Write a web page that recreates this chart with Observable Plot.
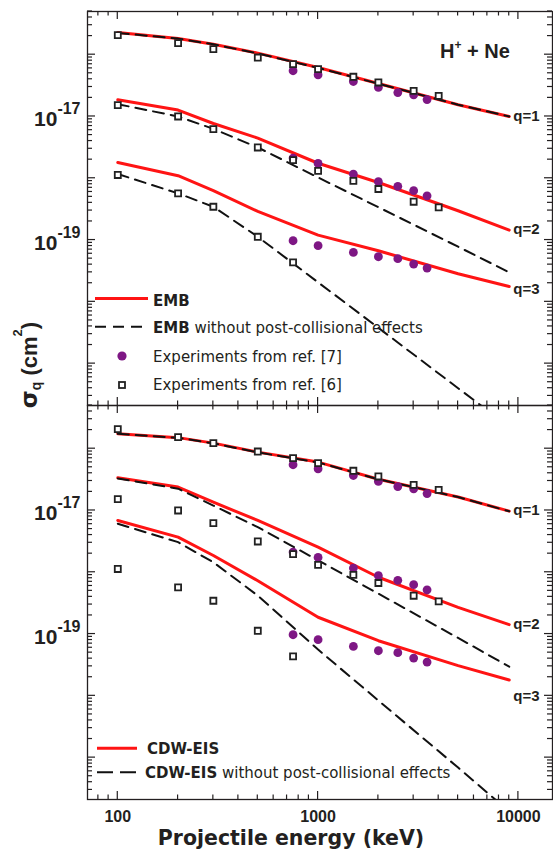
<!DOCTYPE html>
<html>
<head>
<meta charset="utf-8">
<script src="https://cdn.jsdelivr.net/npm/d3@7"></script>
<script src="https://cdn.jsdelivr.net/npm/@observablehq/plot@0.6"></script>
<style>
  html, body { margin: 0; padding: 0; background: #fff; }
  #chart { position: relative; width: 553px; height: 857px; overflow: hidden; }
  #chart svg { display: block; overflow: visible; }
  #overlay { position: absolute; left: 0; top: 0; pointer-events: none; }
</style>
</head>
<body>
<div id="chart"></div>
<script>
// ---------------- data ----------------
const theoryEnergy = [100, 200, 300, 500, 1000, 2000, 5000, 9000];

// EMB (top panel)
const embQ1 = [2.29e-16, 1.83e-16, 1.48e-16, 1.06e-16, 6.2e-17, 3.42e-17, 1.55e-17, 1.0e-17];
const embQ2 = [1.86e-17, 1.27e-17, 7.7e-18, 4.47e-18, 1.75e-18, 8.55e-19, 2.98e-19, 1.45e-19];
const embQ3 = [1.8e-18, 1.1e-18, 6.3e-19, 2.9e-19, 1.2e-19, 6.7e-20, 2.85e-20, 1.77e-20];
// EMB without post-collisional effects
const embNoPcQ1 = [2.25e-16, 1.82e-16, 1.47e-16, 1.05e-16, 6.1e-17, 3.4e-17, 1.55e-17, 1.0e-17];
const embNoPcQ2 = [1.58e-17, 1.0e-17, 6.3e-18, 3.15e-18, 1.03e-18, 3.4e-19, 7.8e-20, 3.0e-20];
const embNoPcQ3 = [1.17e-18, 5.7e-19, 3.46e-19, 1.13e-19, 2.07e-20, 3.8e-21, 4.0e-22, 9.5e-23];

// CDW-EIS (bottom panel)
const cdwQ1 = [1.75e-16, 1.51e-16, 1.23e-16, 8.8e-17, 6.07e-17, 3.2e-17, 1.65e-17, 9.75e-18];
const cdwQ2 = [3.39e-17, 2.39e-17, 1.36e-17, 6.9e-18, 2.55e-18, 8.3e-19, 2.71e-19, 1.42e-19];
const cdwQ3 = [6.9e-18, 3.7e-18, 1.87e-18, 7.3e-19, 1.87e-19, 7.8e-20, 3.08e-20, 1.8e-20];
// CDW-EIS without post-collisional effects
const cdwNoPcQ1 = [1.74e-16, 1.5e-16, 1.22e-16, 8.7e-17, 6.0e-17, 3.2e-17, 1.65e-17, 9.7e-18];
const cdwNoPcQ2 = [3.3e-17, 2.25e-17, 1.2e-17, 5.37e-18, 1.56e-18, 4.5e-19, 8.65e-20, 2.96e-20];
const cdwNoPcQ3 = [6.1e-18, 3.07e-18, 1.45e-18, 4.19e-19, 5.6e-20, 8.4e-21, 6.9e-22, 1.34e-22];

// Experiments from ref. [6] (open squares)
const exp6Energy = [100, 200, 300, 500, 750, 1000, 1500, 2000, 3000, 4000];
const exp6Q1 = [2.07e-16, 1.54e-16, 1.23e-16, 9.0e-17, 7.05e-17, 5.85e-17, 4.39e-17, 3.55e-17, 2.6e-17, 2.16e-17];
const exp6Q2 = [1.53e-17, 1.0e-17, 6.25e-18, 3.15e-18, 1.97e-18, 1.32e-18, 9.1e-19, 6.7e-19, 4.17e-19, 3.37e-19];
const exp6Q3Energy = [100, 200, 300, 500, 750];
const exp6Q3 = [1.13e-18, 5.7e-19, 3.46e-19, 1.13e-19, 4.34e-20];

// Experiments from ref. [7] (filled circles)
const exp7Energy = [750, 1000, 1500, 2000, 2500, 3000, 3500];
const exp7Q1 = [5.5e-17, 4.73e-17, 3.68e-17, 2.95e-17, 2.44e-17, 2.24e-17, 1.88e-17];
const exp7Q2 = [2.12e-18, 1.74e-18, 1.17e-18, 8.8e-19, 7.4e-19, 6.3e-19, 5.2e-19];
const exp7Q3 = [9.75e-20, 8.1e-20, 6.3e-20, 5.37e-20, 5.0e-20, 4.09e-20, 3.52e-20];

// labels
const qLabels = ["q=1", "q=2", "q=3"];
const qLabelEnergy = 9000;
const qLabelYTop = [1.0e-17, 1.51e-19, 1.61e-20];
const qLabelYBottom = [1.0e-17, 1.46e-19, 1.0e-20];
const xTickLabels = [100, 1000, 10000];
const yTickLabels = [1e-17, 1e-19];
const xDomain = [70.6, 14800];
const yDomain = [2.1e-22, 5.0e-16];

// ---------------- styling ----------------
const RED = "#ff1414";
const PURPLE = "#7e1784";
const AX = "#231f20";
const TXT = "#231f20";
const ARIAL = "'Liberation Sans', Arial, Helvetica, sans-serif";
const DEJAVU = "'DejaVu Sans', 'Liberation Sans', sans-serif";
const DASH = "11,7";
const W = 553, ML = 87, MR = 1;

const series = (xs, ys) => xs.map((x, i) => ({x, y: ys[i]}));

const isMajor = d => Math.abs(Math.log10(d) - Math.round(Math.log10(d))) < 1e-9;
const xAll = d3.scaleLog().domain(xDomain).ticks(20);
const yAll = d3.scaleLog().domain(yDomain).ticks(20);
const xMajor = xAll.filter(isMajor), xMinor = xAll.filter(d => !isMajor(d));
const yMajor = yAll.filter(isMajor), yMinor = yAll.filter(d => !isMajor(d));

function panel({height, marginTop, marginBottom, solid, dashed, qY, showX}) {
  const marks = [
    ...solid.map(ys => Plot.line(series(theoryEnergy, ys), {x: "x", y: "y", stroke: RED, strokeWidth: 3, clip: true})),
    ...dashed.map(ys => Plot.line(series(theoryEnergy, ys), {x: "x", y: "y", stroke: "#111", strokeWidth: 2, strokeDasharray: DASH, clip: true})),
    ...[exp7Q1, exp7Q2, exp7Q3].map(ys => Plot.dot(series(exp7Energy, ys), {x: "x", y: "y", r: 4.4, fill: PURPLE, stroke: "none"})),
    ...[[exp6Energy, exp6Q1], [exp6Energy, exp6Q2], [exp6Q3Energy, exp6Q3]].map(([xs, ys]) =>
      Plot.dot(series(xs, ys), {x: "x", y: "y", symbol: "square", r: 3.4, fill: "white", stroke: "#222", strokeWidth: 1.8})),
    Plot.text(qLabels.map((t, i) => ({t, x: qLabelEnergy, y: qY[i]})), {x: "x", y: "y", text: "t", textAnchor: "start", dx: 4, fontSize: 15, fontWeight: "bold", fill: TXT}),
    Plot.frame({stroke: AX, strokeWidth: 1.3}),
    Plot.axisY({anchor: "left", ticks: yTickLabels, tickSize: 0, tickPadding: 7, dy: 3, label: null,
      tickFormat: d => "10^" + Math.round(Math.log10(d)), fontSize: 21, fontWeight: "bold", fill: TXT}),
    showX
      ? Plot.axisX({anchor: "bottom", ticks: xTickLabels, tickSize: 0, tickPadding: 11, label: null,
          tickFormat: d3.format("d"), fontSize: 16, fontWeight: "bold", fill: TXT})
      : Plot.axisX({anchor: "bottom", ticks: [], tickSize: 0, label: null})
  ];
  const svg = Plot.plot({
    width: W, height, marginTop, marginBottom, marginLeft: ML, marginRight: MR,
    style: {fontFamily: ARIAL, background: "transparent", overflow: "visible"},
    x: {type: "log", domain: xDomain},
    y: {type: "log", domain: yDomain},
    marks
  });
  // superscript exponents of the y tick labels
  const ns = "http://www.w3.org/2000/svg";
  svg.querySelectorAll('[aria-label="y-axis tick label"] text').forEach(t => {
    const s = t.textContent;
    if (!s.includes("^")) return;
    const [b, e] = s.split("^");
    t.textContent = "";
    const t1 = document.createElementNS(ns, "tspan"); t1.textContent = b;
    const t2 = document.createElementNS(ns, "tspan"); t2.textContent = e;
    t2.setAttribute("dy", "-12"); t2.setAttribute("font-size", "16");
    t.appendChild(t1); t.appendChild(t2);
  });
  return svg;
}

const chart = document.getElementById("chart");
const topSvg = panel({height: 405, marginTop: 11, marginBottom: 0,
  solid: [embQ1, embQ2, embQ3], dashed: [embNoPcQ1, embNoPcQ2, embNoPcQ3], qY: qLabelYTop, showX: false});
const botSvg = panel({height: 452, marginTop: 0, marginBottom: 58,
  solid: [cdwQ1, cdwQ2, cdwQ3], dashed: [cdwNoPcQ1, cdwNoPcQ2, cdwNoPcQ3], qY: qLabelYBottom, showX: true});
chart.appendChild(topSvg);
chart.appendChild(botSvg);

// ---------------- overlay: ticks, titles & legends ----------------
const ov = d3.select(chart).append("svg").attr("id", "overlay").attr("width", 553).attr("height", 857);

// inward-pointing ticks on all four sides, positioned with each panel's own Plot scales
function drawTicks(svg, offsetY) {
  try {
    const d0 = svg.scale("x"), e0 = svg.scale("y");
    const sx = d3.scaleLog().domain(d0.domain).range(d0.range);
    const sy = d3.scaleLog().domain(e0.domain).range(e0.range);
    const [xl, xr] = d0.range;
    const yb = Math.max(...e0.range) + offsetY, yt = Math.min(...e0.range) + offsetY;
    const g = ov.append("g").attr("stroke", AX).attr("stroke-width", 1.2);
    for (const [ticks, size] of [[xMajor, 8], [xMinor, 4.5]]) for (const v of ticks) {
      const X = sx(v);
      g.append("line").attr("x1", X).attr("x2", X).attr("y1", yt).attr("y2", yt + size);
      g.append("line").attr("x1", X).attr("x2", X).attr("y1", yb).attr("y2", yb - size);
    }
    for (const [ticks, size] of [[yMajor, 8], [yMinor, 5]]) for (const v of ticks) {
      const Y = sy(v) + offsetY;
      g.append("line").attr("x1", xl).attr("x2", xl + size).attr("y1", Y).attr("y2", Y);
      g.append("line").attr("x1", xr).attr("x2", xr - size).attr("y1", Y).attr("y2", Y);
    }
  } catch (e) { /* ticks are decorative */ }
}
drawTicks(topSvg, 0);
drawTicks(botSvg, 405);

// y title
const yt = ov.append("text").attr("transform", "translate(37,365) rotate(-90)")
  .attr("text-anchor", "middle").attr("font-family", ARIAL).attr("font-weight", "bold")
  .attr("font-size", 22).attr("fill", TXT);
yt.append("tspan").text("σ").attr("font-family", DEJAVU).attr("font-size", 23);
yt.append("tspan").text("q").attr("font-size", 14).attr("dy", 4);
yt.append("tspan").text(" (cm").attr("dy", -4);
yt.append("tspan").text("2").attr("font-size", 13).attr("dy", -15);
yt.append("tspan").text(")").attr("dy", 15);

// x title
ov.append("text").attr("x", 291).attr("y", 845).attr("text-anchor", "middle")
  .attr("font-family", DEJAVU).attr("font-weight", "bold").attr("font-size", 20.5).attr("fill", TXT)
  .text("Projectile energy (keV)");

// H+ + Ne
const hn = ov.append("text").attr("x", 440).attr("y", 57.5).attr("font-family", ARIAL)
  .attr("font-weight", "bold").attr("font-size", 20).attr("fill", TXT);
hn.append("tspan").text("H");
hn.append("tspan").text("+").attr("font-size", 12).attr("dy", -9);
hn.append("tspan").text(" + Ne").attr("dy", 9);

function legendText(x, y, bold, rest) {
  const t = ov.append("text").attr("x", x).attr("y", y).attr("font-family", DEJAVU)
    .attr("font-size", 15).attr("fill", TXT);
  if (bold) t.append("tspan").attr("font-weight", "bold").text(bold);
  if (rest) t.append("tspan").text(rest);
}
// top legend
ov.append("line").attr("x1", 95).attr("x2", 148).attr("y1", 298.5).attr("y2", 298.5).attr("stroke", RED).attr("stroke-width", 3);
legendText(153, 305.5, "EMB", "");
ov.append("line").attr("x1", 95).attr("x2", 148).attr("y1", 326.7).attr("y2", 326.7).attr("stroke", "#111").attr("stroke-width", 2).attr("stroke-dasharray", DASH);
legendText(153, 333, "EMB", " without post-collisional effects");
ov.append("circle").attr("cx", 122).attr("cy", 356).attr("r", 4.6).attr("fill", PURPLE);
legendText(153, 361.5, "", "Experiments from ref. [7]");
ov.append("rect").attr("x", 119).attr("y", 382).attr("width", 6).attr("height", 6).attr("fill", "white").attr("stroke", "#222").attr("stroke-width", 1.8);
legendText(153, 390, "", "Experiments from ref. [6]");

// bottom legend
ov.append("line").attr("x1", 97).attr("x2", 137).attr("y1", 748.3).attr("y2", 748.3).attr("stroke", RED).attr("stroke-width", 3);
legendText(147, 753.5, "CDW-EIS", "");
ov.append("line").attr("x1", 97).attr("x2", 137).attr("y1", 772.3).attr("y2", 772.3).attr("stroke", "#111").attr("stroke-width", 2).attr("stroke-dasharray", "16,7");
legendText(145, 777.5, "CDW-EIS", " without post-collisional effects");
</script>
</body>
</html>
